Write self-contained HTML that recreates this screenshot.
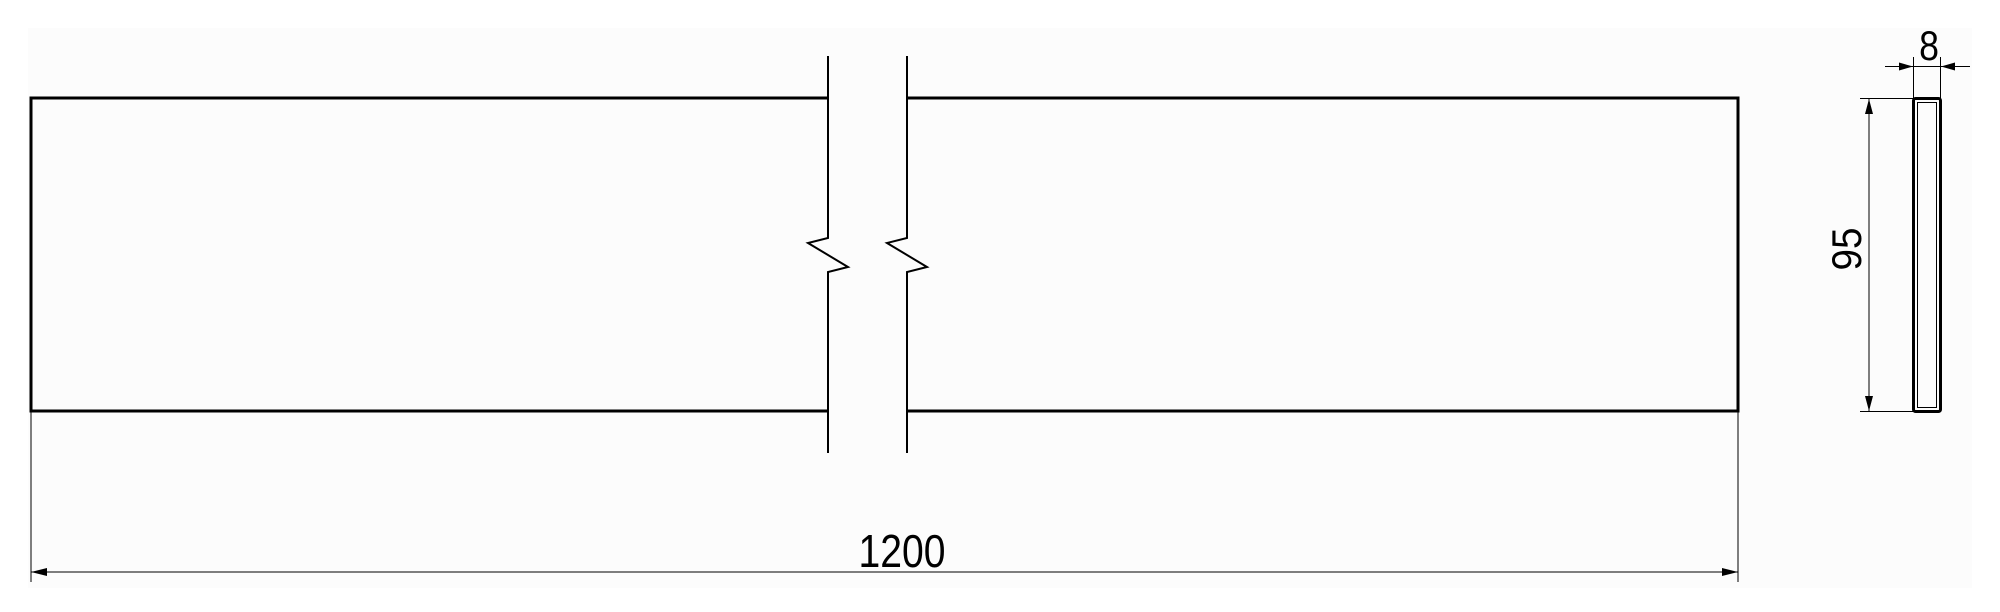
<!DOCTYPE html>
<html><head><style>
html,body{margin:0;padding:0;background:#fff;}
svg{display:block}
text{font-family:"Liberation Sans",sans-serif;fill:#000}
</style></head><body>
<svg width="2000" height="612" viewBox="0 0 2000 612" xmlns="http://www.w3.org/2000/svg">
<rect x="28" y="28" width="1944" height="560" fill="#fcfcfc"/>
<g stroke="#000" fill="none" stroke-width="3">
<polyline points="828,98 31,98 31,411 828,411"/>
<polyline points="907,98 1738,98 1738,411 907,411"/>
</g>
<g stroke="#000" fill="none" stroke-width="2">
<polyline points="828,56 828,238 808,243 848,267 828,272 828,453"/>
<polyline points="907,56 907,238 887,243 927,267 907,272 907,453"/>
<rect x="1913.5" y="98.5" width="27" height="313" rx="2" stroke-width="3"/>
<rect x="1917.5" y="102.5" width="19" height="305" stroke-width="1"/>
</g>
<g stroke="#000" stroke-width="1" fill="none">
<line x1="31" y1="412" x2="31" y2="582"/>
<line x1="1738" y1="412" x2="1738" y2="582"/>
<line x1="31" y1="572" x2="1738" y2="572"/>
<line x1="1860" y1="98.5" x2="1913" y2="98.5"/>
<line x1="1860" y1="411.5" x2="1913" y2="411.5"/>
<line x1="1869" y1="99" x2="1869" y2="411"/>
<line x1="1913.5" y1="57" x2="1913.5" y2="98"/>
<line x1="1940.5" y1="57" x2="1940.5" y2="98"/>
<line x1="1885" y1="66.5" x2="1970" y2="66.5"/>
</g>
<g fill="#000">
<polygon points="31,572 47,568 47,576"/>
<polygon points="1738,572 1722,568 1722,576"/>
<polygon points="1869,99 1865,114 1873,114"/>
<polygon points="1869,411 1865,396 1873,396"/>
<polygon points="1913,66.5 1899,62.5 1899,70.5"/>
<polygon points="1941,66.5 1955,62.5 1955,70.5"/>
</g>
<text font-size="46" text-anchor="middle" transform="translate(902,567) scale(0.85,1)">1200</text>
<text font-size="42" text-anchor="middle" transform="translate(1929,60) scale(0.85,1)">8</text>
<text font-size="42" text-anchor="middle" transform="translate(1861,249) rotate(-90) scale(0.92,1)">95</text>
</svg>
</body></html>
